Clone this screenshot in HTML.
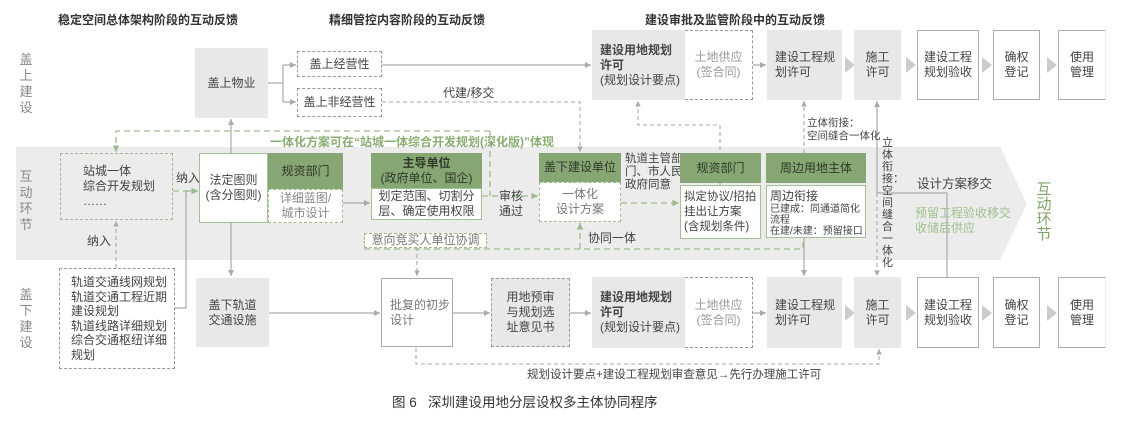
<!DOCTYPE html>
<html><head><meta charset="utf-8"><style>
body{margin:0;width:1138px;height:438px;background:#fff;position:relative;overflow:hidden;font-family:"Liberation Sans","Noto Sans CJK SC",sans-serif;color:#444}
.b{position:absolute;box-sizing:border-box;display:flex;align-items:center;justify-content:center;text-align:center;font-size:12px;line-height:15px;white-space:nowrap}
.g{background:#e8e8e8}
.gd{border:1px dashed #999}
.gr{background:#86a673;color:#2f3a2a}
.gb{border:1.2px solid #a5c094;background:#fff}
.gdd{border:1px dashed #9fbb8e;background:#fff}
.w{border:1.3px solid #a9abb8;background:#fff}
.t{position:absolute;font-size:12px;line-height:15px;white-space:nowrap}
.h{position:absolute;font-size:12px;font-weight:bold;color:#333;white-space:nowrap}
.vl{position:absolute;width:16px;font-size:13px;line-height:16px;color:#888;text-align:center}
.lt{color:#999}
.bd{font-weight:bold}
</style></head><body>
<svg width="1138" height="438" style="position:absolute;left:0;top:0">
<defs>
<marker id="a" markerWidth="6" markerHeight="6" refX="5" refY="3" orient="auto"><path d="M0,0.5L5,3L0,5.5z" fill="#aaa"/></marker>
<marker id="ag" markerWidth="6" markerHeight="6" refX="5" refY="3" orient="auto"><path d="M0,0.5L5,3L0,5.5z" fill="#9fbb8e"/></marker>
</defs>
<polygon points="16,147 1000,147 1027,204 1000,260 16,260" fill="#ececec"/>
<g fill="none" stroke="#aaa" stroke-width="1.2">
<path d="M268,83H283M283,65V102" />
<path d="M283,65H296" marker-end="url(#a)"/><path d="M283,102H296" marker-end="url(#a)"/>
<path d="M382,65H591" marker-end="url(#a)"/>
<path d="M231,153V119" marker-end="url(#a)"/>
<path d="M231,223V276" marker-end="url(#a)"/>
<path d="M175,308H186V191H198" marker-end="url(#a)"/>
<path d="M343,203H370" marker-end="url(#a)"/>
<path d="M269,313H380" marker-end="url(#a)"/>
<path d="M453,313H490" marker-end="url(#a)"/>
<path d="M570,313H591" marker-end="url(#a)"/>
<path d="M753,313H766" marker-end="url(#a)"/>
<path d="M753,65H766" marker-end="url(#a)"/>
<path d="M804,238V276" marker-end="url(#a)"/>
<path d="M877,193V101" marker-end="url(#a)"/>
<path d="M877,193H947V277"/>
</g>
<g fill="none" stroke="#aaa" stroke-width="1.1" stroke-dasharray="4,3">
<path d="M382,102H580V152" marker-end="url(#a)"/>
<path d="M720,185V125H638V101" marker-end="url(#a)"/>
<path d="M804,153V101" marker-end="url(#a)"/>
<path d="M116,268V221" marker-end="url(#a)"/>
<path d="M417,247V276" marker-end="url(#a)"/>
<path d="M416,348V364H879V349" marker-end="url(#a)"/>
<path d="M877,193V276" marker-end="url(#a)"/>
</g>
<g fill="none" stroke="#9fbb8e" stroke-width="1.3" stroke-dasharray="6,4">
<path d="M490,131H116V152" marker-end="url(#ag)"/>
<path d="M490,131V196"/>
<path d="M173,191H198" marker-end="url(#ag)"/>
<path d="M482,196H538" marker-end="url(#ag)"/>
<path d="M621,203H679" marker-end="url(#ag)"/>
<path d="M364,249H803V238"/>
<path d="M580,249V223" marker-end="url(#ag)"/>
</g>
<g fill="#ccc">
<polygon points="845,57 855,65 845,73"/><polygon points="906,57 916,65 906,73"/><polygon points="982,57 992,65 982,73"/><polygon points="1047,57 1057,65 1047,73"/>
<polygon points="845,305 855,313 845,321"/><polygon points="906,305 916,313 906,321"/><polygon points="982,305 992,313 982,321"/><polygon points="1047,305 1057,313 1047,321"/>
</g>
</svg>

<div class="h" style="left:58px;top:11px">稳定空间总体架构阶段的互动反馈</div>
<div class="h" style="left:329px;top:11px">精细管控内容阶段的互动反馈</div>
<div class="h" style="left:645px;top:11px">建设审批及监管阶段中的互动反馈</div>

<div class="vl" style="left:18px;top:52px">盖<br>上<br>建<br>设</div>
<div class="vl" style="left:18px;top:169px">互<br>动<br>环<br>节</div>
<div class="vl" style="left:18px;top:287px">盖<br>下<br>建<br>设</div>

<div class="b g" style="left:195px;top:48px;width:73px;height:70px">盖上物业</div>
<div class="b gd" style="left:297px;top:51px;width:85px;height:26px">盖上经营性</div>
<div class="b gd" style="left:297px;top:88px;width:85px;height:29px">盖上非经营性</div>
<div class="t" style="left:443px;top:86px">代建/移交</div>
<div class="t" style="left:270px;top:135px;color:#8aae74;font-weight:bold;font-size:12px">一体化方案可在“站城一体综合开发规划(深化版)”体现</div>

<div class="b g" style="left:592px;top:30px;width:93px;height:70px;justify-content:flex-start;text-align:left;padding-left:8px"><div><span class="bd">建设用地规划<br>许可</span><br>(规划设计要点)</div></div>
<div class="b gd lt" style="left:685px;top:30px;width:68px;height:70px;border-left:none">土地供应<br>(签合同)</div>
<div class="b g" style="left:767px;top:30px;width:75px;height:70px;justify-content:flex-start;text-align:left;padding-left:8px">建设工程规<br>划许可</div>
<div class="b g" style="left:854px;top:30px;width:47px;height:70px">施工<br>许可</div>
<div class="b w" style="left:917px;top:30px;width:62px;height:70px">建设工程<br>规划验收</div>
<div class="b w" style="left:993px;top:30px;width:47px;height:70px">确权<br>登记</div>
<div class="b w" style="left:1058px;top:30px;width:48px;height:70px;border-right-color:#eee">使用<br>管理</div>
<div class="t" style="left:807px;top:117px;font-size:10.5px;line-height:13px">立体衔接：<br>空间缝合一体化</div>

<div class="b gd" style="left:60px;top:153px;width:113px;height:67px;justify-content:flex-start;text-align:left;padding-left:22px;border-color:#a5b89a">站城一体<br>综合开发规划<br>……</div>
<div class="t" style="left:176px;top:171px">纳入</div>
<div class="t" style="left:87px;top:234px">纳入</div>
<div class="b" style="left:199px;top:153px;width:69px;height:70px;border:1.2px solid #a5c094;background:#fff">法定图则<br>(含分图则)</div>
<div class="b gr" style="left:268px;top:153px;width:75px;height:36px">规资部门</div>
<div class="b gdd lt" style="left:268px;top:189px;width:75px;height:34px;color:#888">详细蓝图/<br>城市设计</div>
<div class="b gr" style="left:371px;top:153px;width:111px;height:35px"><div><b>主导单位</b><br>(政府单位、国企)</div></div>
<div class="b gb" style="left:371px;top:188px;width:111px;height:32px">划定范围、切割分<br>层、确定使用权限</div>
<div class="b gdd" style="left:364px;top:233px;width:123px;height:15px;color:#777">意向竞买人单位协调</div>
<div class="t" style="left:499px;top:189px">审核<br>通过</div>
<div class="b gr" style="left:539px;top:153px;width:82px;height:29px">盖下建设单位</div>
<div class="b gdd" style="left:539px;top:182px;width:82px;height:40px;color:#777">一体化<br>设计方案</div>
<div class="t" style="left:588px;top:231px">协同一体</div>
<div class="t" style="left:625px;top:153px;font-size:11.5px;line-height:13px">轨道主管部<br>门、市人民<br>政府同意</div>
<div class="b gr" style="left:680px;top:153px;width:81px;height:30px">规资部门</div>
<div class="b gb" style="left:680px;top:185px;width:81px;height:54px;justify-content:flex-start;text-align:left;padding-left:3px;font-size:11.5px">拟定协议/招拍<br>挂出让方案<br>(含规划条件)</div>
<div class="b gr" style="left:766px;top:153px;width:100px;height:30px">周边用地主体</div>
<div class="b gb" style="left:766px;top:185px;width:100px;height:53px;justify-content:flex-start;text-align:left;padding-left:3px;align-items:flex-start;padding-top:3px"><div>周边衔接<br><span style="font-size:10px;line-height:11px;display:block">已建成：同通道简化<br>流程<br>在建/未建：预留接口</span></div></div>
<div class="t" style="left:882px;top:137px;font-size:11px;line-height:12px;width:11px;white-space:normal;text-align:center">立体衔接：空间缝合一体化</div>
<div class="t" style="left:917px;top:177px;font-size:12.5px">设计方案移交</div>
<div class="t" style="left:915px;top:206px;color:#9fc08c;font-size:12px">预留工程验收移交<br>收储后供应</div>
<div class="vl" style="left:1035px;top:182px;color:#7fa468;font-size:15px;line-height:15px;width:18px">互<br>动<br>环<br>节</div>

<div class="b gd" style="left:59px;top:268px;width:116px;height:101px;justify-content:flex-start;text-align:left;padding-left:11px;line-height:14.5px">轨道交通线网规划<br>轨道交通工程近期<br>建设规划<br>轨道线路详细规划<br>综合交通枢纽详细<br>规划</div>
<div class="b g" style="left:196px;top:278px;width:73px;height:69px">盖下轨道<br>交通设施</div>
<div class="b" style="left:381px;top:278px;width:72px;height:69px;border:1px solid #aaa;background:#fff;justify-content:flex-start;text-align:left;padding-left:8px;color:#777">批复的初步<br>设计</div>
<div class="b g gd" style="left:491px;top:278px;width:79px;height:69px">用地预审<br>与规划选<br>址意见书</div>
<div class="b g" style="left:592px;top:277px;width:93px;height:71px;justify-content:flex-start;text-align:left;padding-left:8px"><div><span class="bd">建设用地规划<br>许可</span><br>(规划设计要点)</div></div>
<div class="b gd lt" style="left:685px;top:277px;width:68px;height:71px;border-left:none">土地供应<br>(签合同)</div>
<div class="b g" style="left:767px;top:277px;width:75px;height:71px;justify-content:flex-start;text-align:left;padding-left:8px">建设工程规<br>划许可</div>
<div class="b g" style="left:854px;top:277px;width:47px;height:71px">施工<br>许可</div>
<div class="b w" style="left:917px;top:277px;width:62px;height:71px">建设工程<br>规划验收</div>
<div class="b w" style="left:993px;top:277px;width:47px;height:71px">确权<br>登记</div>
<div class="b w" style="left:1058px;top:277px;width:48px;height:71px;border-right-color:#eee">使用<br>管理</div>
<div class="t" style="left:527px;top:368px;font-size:11.5px">规划设计要点+建设工程规划审查意见→先行办理施工许可</div>
<div class="t" style="left:392px;top:395px;font-size:13.5px;color:#333">图 6&nbsp;&nbsp;&nbsp;深圳建设用地分层设权多主体协同程序</div>
</body></html>
